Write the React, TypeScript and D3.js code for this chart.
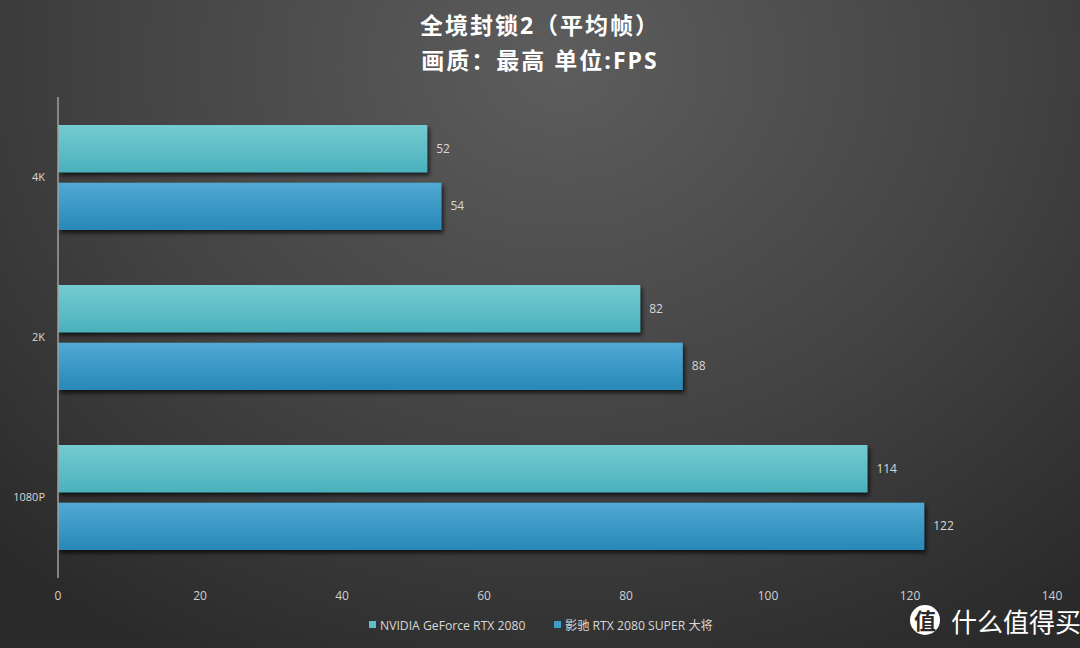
import React from "react";
import * as d3 from "d3";

const categories = ["4K", "2K", "1080P"];
const seriesNames = ["NVIDIA GeForce RTX 2080", "影驰 RTX 2080 SUPER 大将"];
const seriesA = [52, 82, 114];
const seriesB = [54, 88, 122];
const xTicks = [0, 20, 40, 60, 80, 100, 120, 140];
const titleLines = ["全境封锁2（平均帧）", "画质：最高 单位:FPS"];

const W = 1080;
const H = 648;

export default function App() {
  const x = d3.scaleLinear().domain([0, 140]).range([58, 1052]);
  const y = d3.scaleBand().domain(categories).range([97, 577]).paddingInner(0).paddingOuter(0);
  const inner = d3.scaleBand().domain(["a", "b"]).range([28, 133]).paddingInner(0.18);
  const series = [seriesA, seriesB];
  const font = "'Open Sans', 'Noto Sans CJK SC', sans-serif";
  return (
    <svg width={W} height={H} style={{ position: "absolute", left: 0, top: 0 }}>
      <defs>
        <radialGradient id="bg" cx="0.52" cy="0.1" r="0.75" fx="0.52" fy="0.1" gradientTransform="translate(0.52,0.1) scale(1,1.4) translate(-0.52,-0.1)">
          <stop offset="0" stopColor="#5d5d5d" />
          <stop offset="0.55" stopColor="#434343" />
          <stop offset="1" stopColor="#2a2a2a" />
        </radialGradient>
        <linearGradient id="gA" x1="0" y1="0" x2="0" y2="1">
          <stop offset="0" stopColor="#74cbd0" />
          <stop offset="1" stopColor="#4bb1bd" />
        </linearGradient>
        <linearGradient id="gB" x1="0" y1="0" x2="0" y2="1">
          <stop offset="0" stopColor="#52a9d4" />
          <stop offset="1" stopColor="#2788b6" />
        </linearGradient>
        <filter id="sh" x="-5%" y="-20%" width="110%" height="160%">
          <feDropShadow dx="2" dy="3" stdDeviation="2" floodColor="#000" floodOpacity="0.7" />
        </filter>
      </defs>
      <rect x={0} y={0} width={W} height={H} fill="url(#bg)" />
      {titleLines.map((t, i) => (
        <text key={t} x={540} y={34 + i * 35} textAnchor="middle" fill="#ffffff" fontSize={23} letterSpacing={2} fontWeight="bold" fontFamily={font}>
          {t}
        </text>
      ))}
      {categories.map((c, ci) =>
        series.map((s, si) => {
          const by = (y(c) as number) + (inner(si === 0 ? "a" : "b") as number);
          const bh = inner.bandwidth();
          return (
            <g key={c + si}>
              <rect x={x(0)} y={by} width={x(s[ci]) - x(0)} height={bh} fill={si === 0 ? "url(#gA)" : "url(#gB)"} filter="url(#sh)" />
              <text x={x(s[ci]) + 9} y={by + bh / 2 + 4} fill="#d8d8d8" fontSize={12} fontFamily={font}>
                {s[ci]}
              </text>
            </g>
          );
        })
      )}
      <line x1={x(0)} x2={x(0)} y1={97} y2={578} stroke="#a0a0a0" strokeWidth={1.5} />
      {categories.map((c) => (
        <text key={c} x={45} y={(y(c) as number) + y.bandwidth() / 2 + 4} textAnchor="end" fill="#d8d8d8" fontSize={11} fontFamily={font}>
          {c}
        </text>
      ))}
      {xTicks.map((t) => (
        <text key={t} x={x(t)} y={600} textAnchor="middle" fill="#d0d0d0" fontSize={12} fontFamily={font}>
          {t}
        </text>
      ))}
      {seriesNames.map((n, i) => {
        const lx = i === 0 ? 369 : 554;
        return (
          <g key={n}>
            <rect x={lx} y={621} width={7} height={7} fill={i === 0 ? "#5bbfc8" : "#3a9dcc"} />
            <text x={lx + 11} y={630} fill="#d8d8d8" fontSize={12.2} fontFamily={font}>
              {n}
            </text>
          </g>
        );
      })}
      <g>
        <circle cx={925} cy={620} r={15} fill="#ffffff" />
        <text x={925} y={629} textAnchor="middle" fill="#2a2a2a" fontSize={22} fontWeight="bold" fontFamily={font}>值</text>
        <text x={951} y={632} fill="#ffffff" fontSize={26} fontFamily={font}>什么值得买</text>
      </g>
    </svg>
  );
}
